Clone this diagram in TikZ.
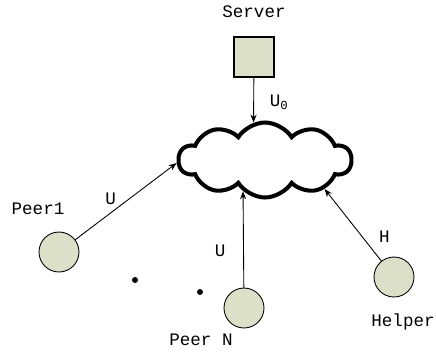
\documentclass[tikz,border=0pt]{standalone}
\usepackage{fontspec}
\setmainfont{Liberation Mono}
\usetikzlibrary{shapes.symbols,arrows.meta,positioning}
\definecolor{nodefill}{RGB}{221,224,200}

\begin{document}
\begin{tikzpicture}[x=0.02cm, y=-0.02cm,
    peer/.style={draw, circle, fill=nodefill, minimum size=0.8cm, inner sep=0pt, line width=0.5pt},
    srv/.style={draw, rectangle, fill=nodefill, minimum size=0.8cm, inner sep=0pt, line width=0.6pt},
    txt/.style={font=\fontsize{10}{12}\selectfont, inner sep=0pt},
    arrow/.style={-{Stealth[length=4.5pt, width=3.5pt]}, line width=0.5pt}
]
    \useasboundingbox (0,0) rectangle (436,356);

    % 云
    \node[draw, cloud, cloud puffs=10, cloud puff arc=115, aspect=2.4, line width=2.3pt,
          minimum width=3.45cm, minimum height=1.5cm] (net) at (265,160) {};

    % 服务器与节点
    \node[srv] (server) at (254,57) {};
    \node[peer] (peer1) at (59,252) {};
    \node[peer] (peerN) at (244,308) {};
    \node[peer] (helper) at (394,277) {};

    % 文字
    \node[txt] (lserver) at (254,12) {Server};
    \node[txt] (lpeer1) at (38,209) {Peer1};
    \node[txt] (lpeerN) at (201,340) {Peer N};
    \node[txt] (lhelper) at (403,322) {Helper};

    % 省略点
    \fill (135,280) circle (3);
    \fill (200,292) circle (3);

    % 连线
    \draw[arrow] (server) -- node[txt, right=9pt, pos=0.55] {U\textsubscript{0}} (net.107);
    \draw[arrow] (peer1) -- node[txt, above=4.5pt, pos=0.35] {U} (net.182);
    \draw[arrow] (peerN) -- node[txt, left=10pt, pos=0.38] {U} (net.235);
    \draw[arrow] (helper) -- node[txt, right=9.5pt, pos=0.34] {H} (net.334);
\end{tikzpicture}
\end{document}
